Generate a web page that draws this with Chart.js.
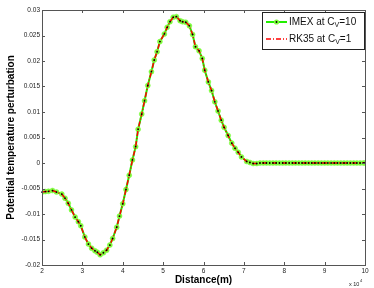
<!DOCTYPE html>
<html>
<head>
<meta charset="utf-8">
<script src="https://cdn.jsdelivr.net/npm/chart.js@4/dist/chart.umd.min.js"></script>
<style>
  html, body { margin: 0; padding: 0; background: #fff; }
  #wrap { width: 374px; height: 288px; position: relative; }
</style>
</head>
<body>
<div id="wrap"><canvas id="c"></canvas></div>
<script>
// Distance in units of 10^4 m
const distance = [
  2.00, 2.08, 2.16, 2.26, 2.36, 2.49, 2.57, 2.65, 2.73, 2.82,
  2.90, 2.96, 3.06, 3.15, 3.23, 3.31, 3.37, 3.44, 3.52, 3.60,
  3.68, 3.75, 3.85, 3.92, 4.00, 4.08, 4.16, 4.24, 4.32, 4.38,
  4.47, 4.54, 4.62, 4.71, 4.78, 4.85, 4.92, 5.03, 5.10, 5.17,
  5.25, 5.33, 5.42, 5.48, 5.56, 5.65, 5.73, 5.80, 5.89, 5.97,
  6.03, 6.12, 6.20, 6.28, 6.36, 6.44, 6.51, 6.61, 6.70, 6.78,
  6.86, 6.94, 7.07, 7.15, 7.23, 7.32, 7.40,
  7.48, 7.56, 7.64, 7.72, 7.80, 7.88, 7.96, 8.04, 8.12, 8.20,
  8.28, 8.36, 8.44, 8.52, 8.60, 8.68, 8.76, 8.84, 8.92, 9.00,
  9.08, 9.16, 9.24, 9.32, 9.40, 9.48, 9.56, 9.64, 9.72, 9.80,
  9.88, 9.96, 10.00
];

// IMEX at Cv=10 (RK35 at Cv=1 lies on top of it)
const imex = [
  -0.0057, -0.0056, -0.00555, -0.0054, -0.0057, -0.0061, -0.0069, -0.0079, -0.0092, -0.0106,
  -0.0115, -0.0123, -0.0145, -0.0159, -0.0167, -0.0172, -0.0175, -0.0180, -0.0176, -0.0171,
  -0.0161, -0.0148, -0.0126, -0.0104, -0.0080, -0.0052, -0.0024, 0.0006, 0.0032, 0.0066,
  0.0096, 0.0122, 0.0152, 0.0179, 0.0202, 0.0218, 0.0238, 0.0253, 0.0266, 0.0277,
  0.0286, 0.0287, 0.0279, 0.0277, 0.0276, 0.0269, 0.0252, 0.0228, 0.0220, 0.0205,
  0.0182, 0.0159, 0.0142, 0.0120, 0.0102, 0.0084, 0.0070, 0.0054, 0.0039, 0.0029,
  0.0021, 0.0012, 0.0003, 0.0001, -0.0001, -0.0001, 0,
  0, 0, 0, 0, 0, 0, 0, 0, 0, 0,
  0, 0, 0, 0, 0, 0, 0, 0, 0, 0,
  0, 0, 0, 0, 0, 0, 0, 0, 0, 0,
  0, 0, 0
];
const rk35 = imex.slice();

const xTicks = [2, 3, 4, 5, 6, 7, 8, 9, 10];
const yTicks = [-0.02, -0.015, -0.01, -0.005, 0, 0.005, 0.01, 0.015, 0.02, 0.025, 0.03];

const FONT = '"Liberation Sans", Arial, Helvetica, sans-serif';
const GREEN = "#22ee00";
const GREEN_MK = "#7cfc3c";
const RED = "#ff0000";
const AXIS = "#555";

const pts = (ys) => distance.map((x, i) => ({ x, y: ys[i] }));

// box, inward ticks, black marker centres, legend and exponent label
const matlabLook = {
  id: "matlabLook",
  afterDatasetsDraw(chart) {
    const ctx = chart.ctx;
    const meta = chart.getDatasetMeta(0);
    ctx.save();
    ctx.fillStyle = "#000";
    meta.data.forEach((p) => {
      ctx.beginPath();
      ctx.arc(p.x, p.y, 0.9, 0, Math.PI * 2);
      ctx.fill();
    });
    ctx.restore();
  },
  afterDraw(chart) {
    const ctx = chart.ctx;
    const a = chart.chartArea;
    const xs = chart.scales.x, ys = chart.scales.y;
    ctx.save();
    ctx.strokeStyle = AXIS;
    ctx.lineWidth = 1;
    ctx.strokeRect(Math.round(a.left) + 0.5, Math.round(a.top) + 0.5,
      Math.round(a.right - a.left), Math.round(a.bottom - a.top));
    ctx.beginPath();
    xTicks.forEach((v) => {
      const px = Math.round(xs.getPixelForValue(v)) + 0.5;
      ctx.moveTo(px, a.bottom); ctx.lineTo(px, a.bottom - 3);
      ctx.moveTo(px, a.top); ctx.lineTo(px, a.top + 3);
    });
    yTicks.forEach((v) => {
      const py = Math.round(ys.getPixelForValue(v)) + 0.5;
      ctx.moveTo(a.left, py); ctx.lineTo(a.left + 3, py);
      ctx.moveTo(a.right, py); ctx.lineTo(a.right - 3, py);
    });
    ctx.stroke();

    // x 10^4
    ctx.fillStyle = "#222";
    ctx.textBaseline = "alphabetic";
    ctx.font = "5.5px " + FONT;
    ctx.fillText("x 10", 349, 286);
    ctx.font = "4px " + FONT;
    ctx.fillText("4", 360, 282);

    // legend
    const L = 262, T = 12, R = 364, B = 49;
    ctx.fillStyle = "#fff";
    ctx.fillRect(L, T, R - L, B - T);
    ctx.strokeStyle = "#222";
    ctx.strokeRect(L + 0.5, T + 0.5, R - L, B - T);

    const rows = [
      { y: 22, label: "IMEX at C", sub: "V", tail: "=10", kind: "imex" },
      { y: 39, label: "RK35 at C", sub: "V", tail: "=1", kind: "rk" }
    ];
    rows.forEach((r) => {
      ctx.save();
      if (r.kind === "imex") {
        ctx.strokeStyle = GREEN; ctx.lineWidth = 2;
        ctx.beginPath(); ctx.moveTo(266, r.y); ctx.lineTo(287, r.y); ctx.stroke();
        ctx.fillStyle = GREEN_MK;
        ctx.beginPath(); ctx.arc(276.5, r.y, 2.6, 0, Math.PI * 2); ctx.fill();
        ctx.fillStyle = "#000";
        ctx.beginPath(); ctx.arc(276.5, r.y, 0.9, 0, Math.PI * 2); ctx.fill();
      } else {
        ctx.strokeStyle = RED; ctx.lineWidth = 1.5;
        ctx.setLineDash([5, 2, 1, 2]);
        ctx.beginPath(); ctx.moveTo(266, r.y); ctx.lineTo(287, r.y); ctx.stroke();
      }
      ctx.restore();
      ctx.fillStyle = "#111";
      ctx.textBaseline = "middle";
      ctx.font = "10px " + FONT;
      let x = 289;
      ctx.fillText(r.label, x, r.y);
      x += ctx.measureText(r.label).width;
      ctx.font = "7px " + FONT;
      ctx.fillText(r.sub, x, r.y + 3);
      x += ctx.measureText(r.sub).width;
      ctx.font = "10px " + FONT;
      ctx.fillText(r.tail, x, r.y);
    });
    ctx.restore();
  }
};

new Chart(document.getElementById("c"), {
  type: "scatter",
  data: {
    datasets: [
      {
        label: "IMEX at Cv=10",
        data: pts(imex),
        order: 1,
        showLine: true,
        borderColor: GREEN,
        borderWidth: 2,
        pointRadius: 2.5,
        pointBackgroundColor: GREEN_MK,
        pointBorderColor: GREEN_MK,
        pointBorderWidth: 0.5,
        tension: 0
      },
      {
        label: "RK35 at Cv=1",
        data: pts(rk35),
        order: 0,
        showLine: true,
        borderColor: RED,
        borderWidth: 1.5,
        borderDash: [5, 2, 1, 2],
        pointRadius: 0,
        tension: 0
      }
    ]
  },
  options: {
    responsive: true,
    maintainAspectRatio: false,
    animation: false,
    layout: { padding: { top: 10, right: 9, left: 0, bottom: 0 } },
    plugins: { legend: { display: false }, tooltip: { enabled: false } },
    scales: {
      x: {
        type: "linear",
        min: 2, max: 10,
        afterBuildTicks: (s) => { s.ticks = xTicks.map((v) => ({ value: v })); },
        afterFit: (s) => { s.height = 23; },
        grid: { display: false, drawTicks: false },
        border: { display: false },
        ticks: { padding: 2, color: "#222", font: { family: FONT, size: 6.5 }, maxRotation: 0 },
        title: {
          display: true, text: "Distance(m)", color: "#000",
          font: { family: FONT, size: 10, weight: "bold" },
          padding: { top: 0, bottom: 2 }
        }
      },
      y: {
        min: -0.02, max: 0.03,
        afterBuildTicks: (s) => { s.ticks = yTicks.map((v) => ({ value: v })); },
        afterFit: (s) => { s.width = 42; },
        grid: { display: false, drawTicks: false },
        border: { display: false },
        ticks: {
          padding: 2, color: "#222", font: { family: FONT, size: 6.5 },
          callback: (v) => String(Number(v.toFixed(3)))
        },
        title: {
          display: true, text: "Potential temperature perturbation", color: "#000",
          font: { family: FONT, size: 10, weight: "bold" },
          padding: { top: 5, bottom: 0 }
        }
      }
    }
  },
  plugins: [matlabLook]
});
</script>
</body>
</html>
